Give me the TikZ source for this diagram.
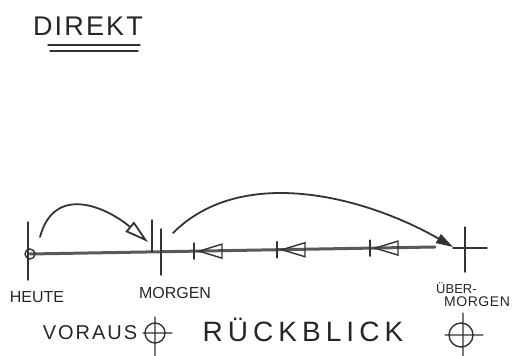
\documentclass[tikz,border=0pt]{standalone}
\usepackage{fontspec}
\setmainfont{Liberation Sans}
\usetikzlibrary{arrows.meta}

\begin{document}
\begin{tikzpicture}[x=1pt, y=1pt, line cap=round, pen/.style={black!80, line width=1.4pt}, axis/.style={black!65, line width=3pt}, lab/.style={black!85, inner sep=0pt, font=\fontsize{16}{16}\selectfont}, big/.style={black!85, inner sep=0pt, font=\fontsize{20}{20}\selectfont\addfontfeature{LetterSpace=10}}]
	\useasboundingbox (0,0) rectangle (514,356);
	% time axis
	\coordinate (heute) at (30,102);
	\coordinate (ende) at (435,109);
	\coordinate (morgen) at (148,114);
	\coordinate (uebermorgen) at (453,109);
	\draw[axis] (heute) -- (ende);
	\draw[pen] (heute) circle (5);
	\draw[pen] (28,76) -- (28,134);
	\draw[pen] (152,104) -- (152,136);
	\draw[pen] (161,81) -- (161,127);
	\draw[pen] (465,84) -- (465,129);
	\draw[pen] (453,108) -- (487,108);
	\foreach \x in {194,277,370} {
		\pgfmathsetmacro\y{102+(\x-30)*7/405}
		\draw[pen] (\x,\y-8) -- (\x,\y+8);
		\draw[pen] (\x+5,\y) -- (\x+28,\y+7) -- (\x+28,\y-7) -- cycle;
	}
	% jumps
	\coordinate (a1) at (40,119);
	\coordinate (a2) at (173,123);
	\draw[pen, line width=1.8pt, -{Triangle[open, length=24pt, width=13pt]}] (a1) to[out=75, in=140, looseness=1.3] (morgen);
	\draw[pen, line width=1.8pt, -{Triangle[length=17pt, width=10pt]}] (a2) to[out=45, in=150, looseness=0.9] (uebermorgen);
	% labels
	\node[lab] (lheute) at (37,59) {HEUTE};
	\node[lab] (lmorgen) at (175,63) {MORGEN};
	\node[lab, font=\fontsize{13}{13}\selectfont, anchor=west] (lueber) at (436,68) {ÜBER-};
	\node[lab, font=\fontsize{14}{14}\selectfont\addfontfeature{LetterSpace=4}] (luebermorgen) at (477,54) {MORGEN};
	\node[big, font=\fontsize{27}{27}\selectfont\addfontfeature{LetterSpace=8}] (titel) at (88,330) {DIREKT};
	\draw[pen] (48,311) -- (140,311);
	\draw[pen] (50,305) -- (138,305);
	\node[big] (voraus) at (90,23) {VORAUS};
	\node[big, font=\fontsize{28}{28}\selectfont\addfontfeature{LetterSpace=18}] (rueckblick) at (303,26) {RÜCKBLICK};
	\draw[pen] (155,23) circle (10) (155,0) -- (155,39) (143,23) -- (172,23);
	\draw[pen] (461,21) circle (12) (463,0) -- (463,43) (445,21) -- (483,21);
\end{tikzpicture}
\end{document}
